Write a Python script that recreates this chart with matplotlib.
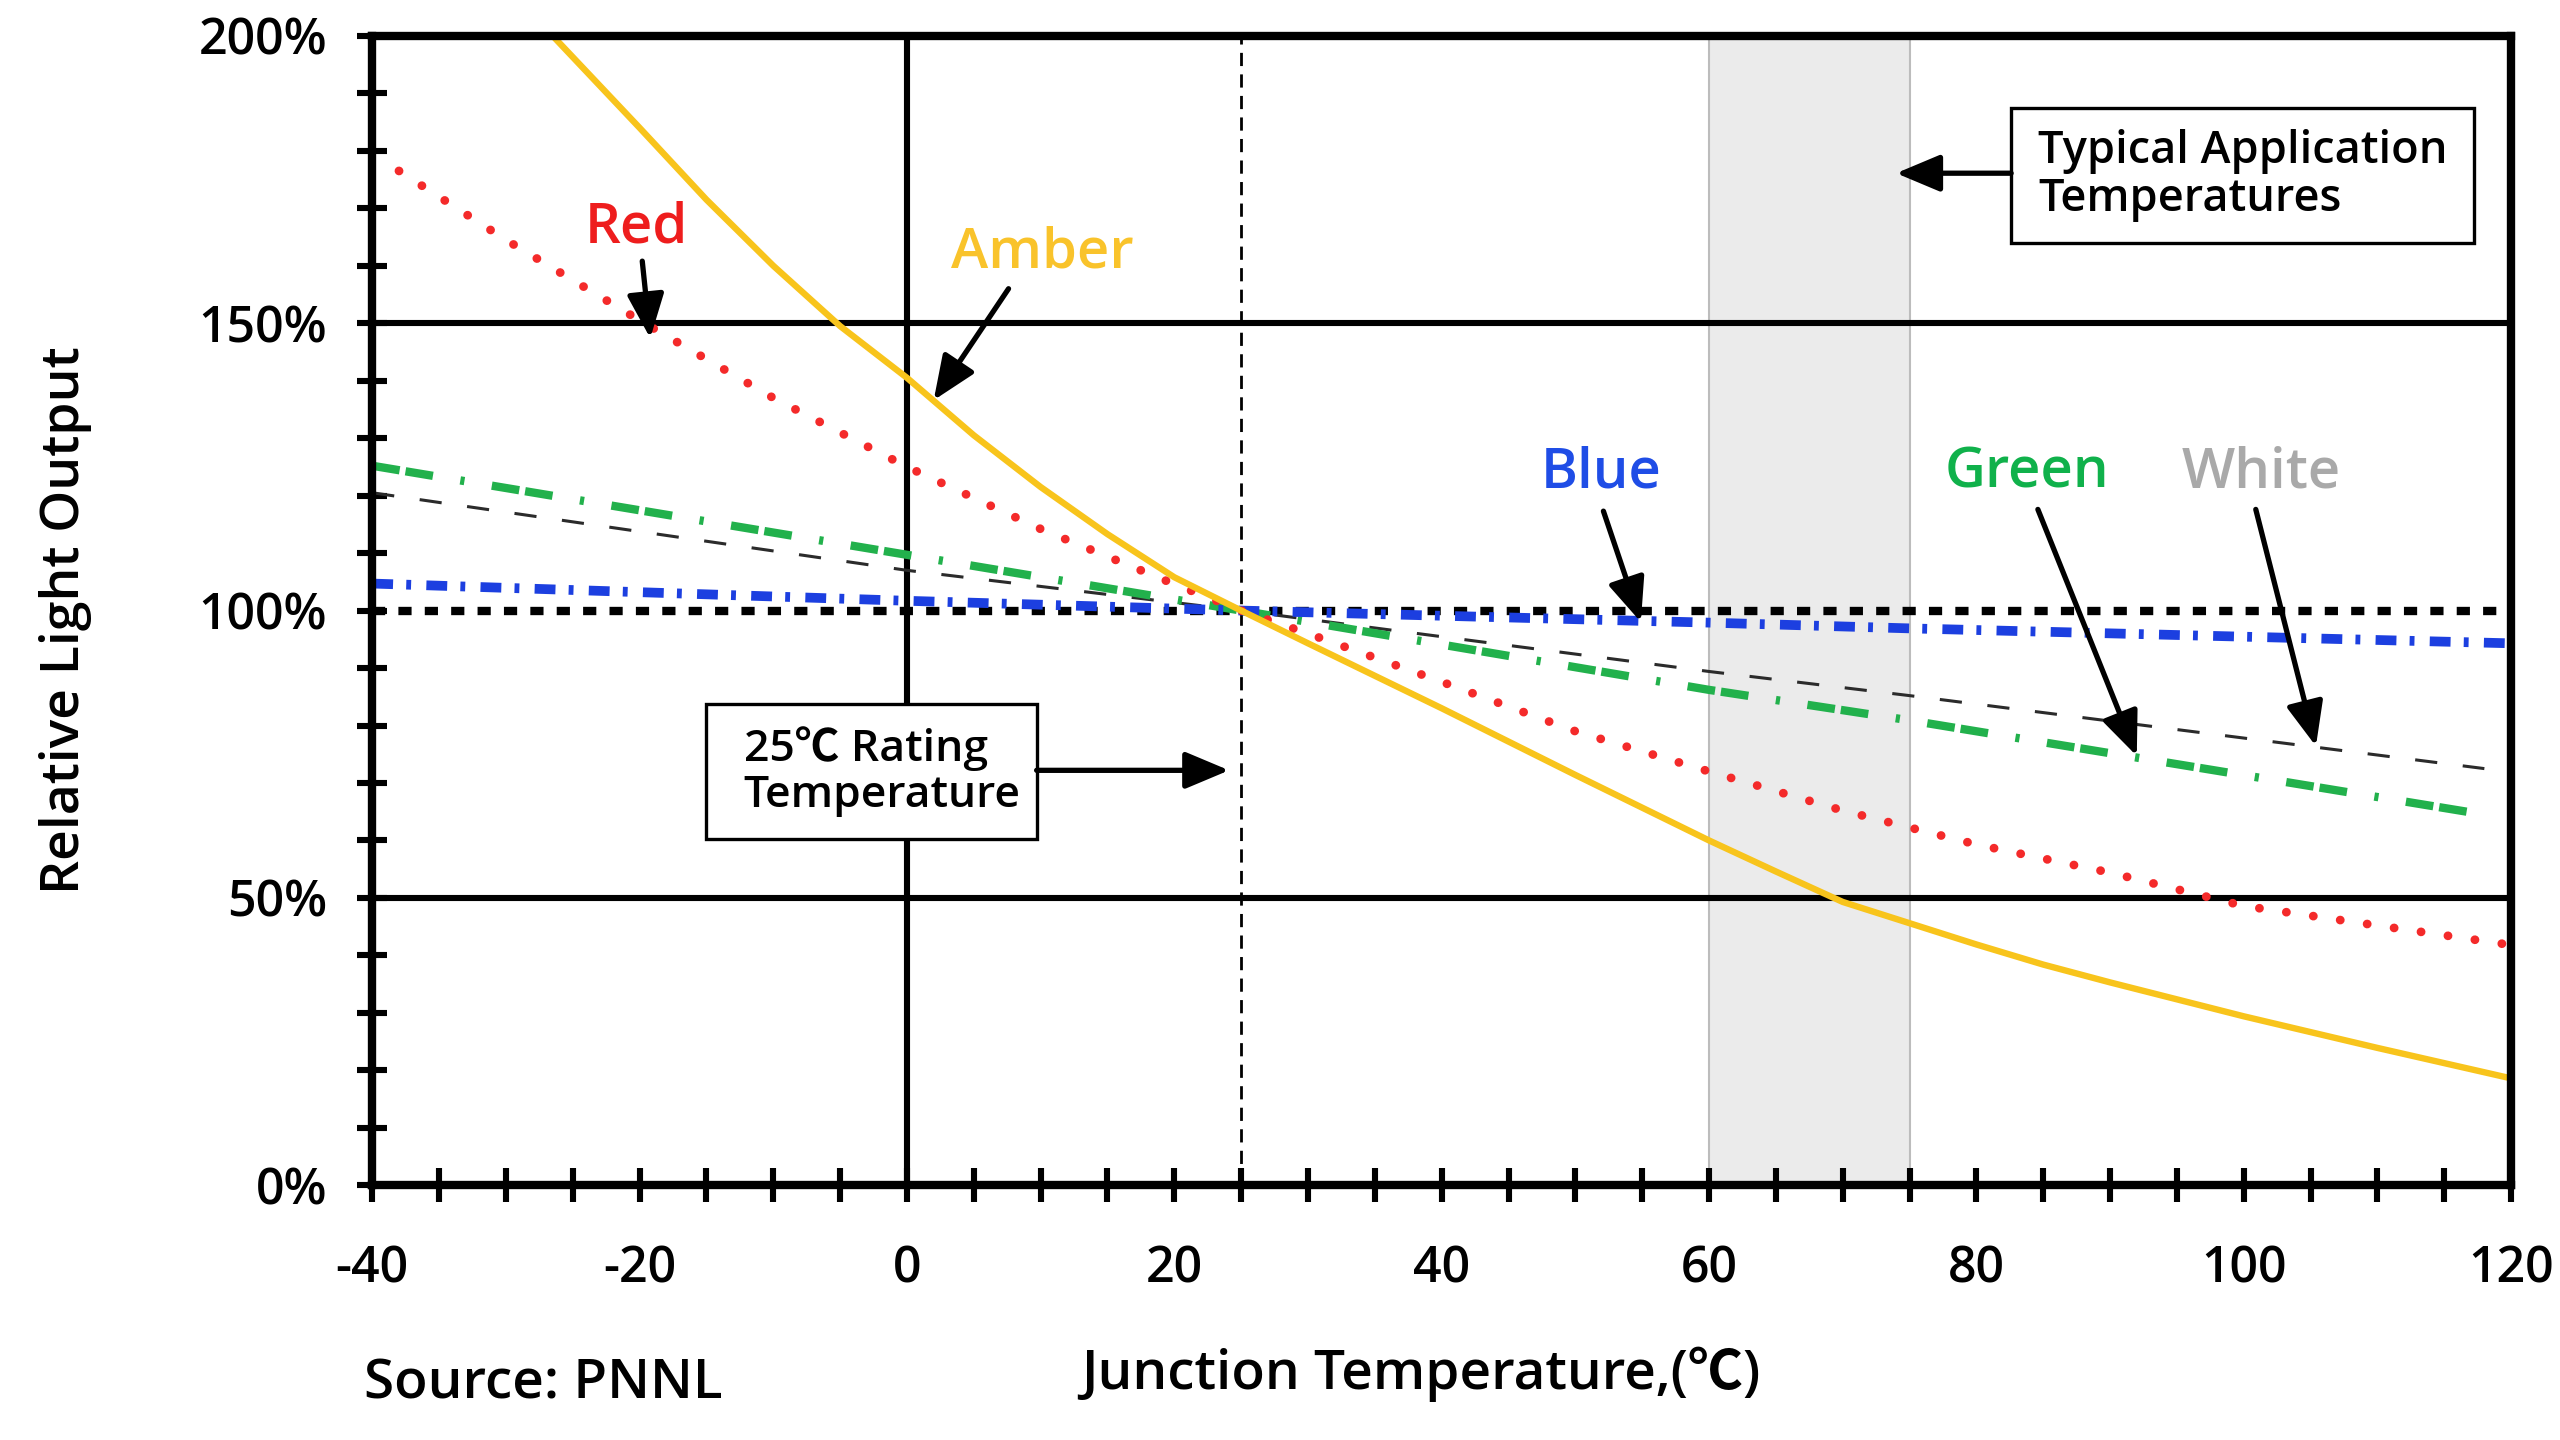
import matplotlib
matplotlib.use('Agg')
import matplotlib.pyplot as plt
from matplotlib.patches import Rectangle
import matplotlib.ticker as mticker

plt.rcParams['font.family'] = ['Open Sans', 'Noto Sans CJK SC', 'DejaVu Sans']
plt.rcParams['font.weight'] = 'semibold'
plt.rcParams['lines.scale_dashes'] = False

# ---------------- data ----------------
amber_t = [-26.5, -20, -15, -10, -5, 0, 5, 10, 15, 20, 25, 30, 40, 50, 60, 65, 70, 75, 80, 85, 90, 100, 110, 120]
amber_v = [200, 184, 171.5, 160, 149.5, 140.5, 130.5, 121.5, 113.3, 105.8, 100, 94.3, 83, 71.4, 60, 54.6,
           49.3, 45.6, 41.9, 38.4, 35.3, 29.4, 23.9, 18.6]

red_t = [-38, -30, -20, -10, 0, 10, 20, 25, 30, 40, 50, 60, 70, 80, 90, 100, 110, 120]
red_v = [176.5, 164.5, 150.5, 137, 125, 114.2, 104.6, 100, 96, 87.6, 79, 72, 65.2, 59.3, 54.4, 48.6, 45.2, 41.8]

green_t = [-40, 0, 25, 60, 75, 118]
green_v = [125.2, 109.7, 100, 86.2, 80.9, 64.5]

white_t = [-40, 0, 25, 60, 75, 118]
white_v = [120.5, 107, 100, 89.4, 85.2, 72.5]

blue_t = [-40, 0, 25, 60, 75, 120]
blue_v = [104.7, 101.7, 100, 97.9, 96.9, 94.3]

rated_level = 100          # dotted reference line (%)
rating_temp = 25           # 25 °C rating temperature
typical_range = (60, 75)   # typical application temperatures

x_ticks = [-40, -20, 0, 20, 40, 60, 80, 100, 120]
x_tick_labels = ['-40', '-20', '0', '20', '40', '60', '80', '100', '120']
y_ticks = [0, 50, 100, 150, 200]
y_tick_labels = ['0%', '50%', '100%', '150%', '200%']

# ---------------- figure ----------------
fig = plt.figure(figsize=(25.6, 14.4), dpi=100)
ax = fig.add_axes([0.1454, 0.1769, 0.8355, 0.7982])
ax.set_xlim(-40, 120)
ax.set_ylim(0, 200)

# shaded typical-application band
ax.axvspan(*typical_range, facecolor='#ebebeb', edgecolor='#bcbcbc', lw=1.5, zorder=0.5)

# solid reference lines
for yv in [50, 150]:
    ax.axhline(yv, color='black', lw=4.4, zorder=1)
ax.axvline(0, color='black', lw=4.4, zorder=1)
ax.axvline(rating_temp, color='black', lw=2.0, dashes=[9.5, 6], zorder=1)

# series
ax.axhline(rated_level, color='black', lw=6.0, dashes=[9.5, 9.5], zorder=3)
ax.plot(white_t, white_v, color='#2b2b2b', lw=2.2, dashes=[16, 18.5], zorder=3.5)
ax.plot(green_t, green_v, color='#22b14c', lw=6.0, dashes=[20, 4.3, 20, 20, 3, 20], zorder=4)
ax.plot(blue_t, blue_v, color='#1c3fe0', lw=7.0, dashes=[15, 9.5, 3.5, 11], zorder=4)
ax.plot(red_t, red_v, color='#f42a2a', lw=6.3, dashes=[0.1, 19.5], dash_capstyle='round', zorder=5)
ax.plot(amber_t, amber_v, color='#f8c41c', lw=4.6, zorder=6)

# ticks
ax.xaxis.set_major_locator(mticker.FixedLocator(x_ticks))
ax.xaxis.set_major_formatter(mticker.FixedFormatter(x_tick_labels))
ax.xaxis.set_minor_locator(mticker.MultipleLocator(5))
ax.yaxis.set_major_locator(mticker.FixedLocator(y_ticks))
ax.yaxis.set_major_formatter(mticker.FixedFormatter(y_tick_labels))
ax.yaxis.set_minor_locator(mticker.MultipleLocator(10))
ax.tick_params(axis='x', which='both', direction='inout', length=25, width=4.4, labelsize=36, pad=30)
ax.tick_params(axis='y', which='both', direction='inout', length=21, width=4.4, labelsize=36, pad=22)
for s in ax.spines.values():
    s.set_linewidth(6)
    s.set_zorder(10)

# axis labels and source
fig.text(0.0255, 0.569, 'Relative Light Output', rotation=90, ha='center', va='center', fontsize=38.5)
fig.text(0.555, 0.0454, 'Junction Temperature,(℃)', ha='center', va='center', fontsize=39.5)
fig.text(0.142, 0.0385, 'Source: PNNL', ha='left', va='center', fontsize=39.5)

# colour labels with arrows
arrow_kw = dict(arrowstyle='-|>,head_length=1.0,head_width=0.42', mutation_scale=27,
                lw=3.8, color='black', shrinkA=0, shrinkB=0)
labels = [
    ('Red', '#ee1d1d', (-20.2, 166.5), (-19.8, 160.8), (-19.2, 147.4)),
    ('Amber', '#f9c32b', (10.15, 162.2), (7.6, 156), (2.0, 136.6)),
    ('Blue', '#1f4de6', (51.9, 123.9), (52.1, 117.3), (54.9, 98.0)),
    ('Green', '#10b14b', (83.8, 123.9), (84.6, 117.6), (92.0, 74.7)),
    ('White', '#a9a9a9', (101.3, 123.9), (100.9, 117.6), (105.4, 76.4)),
]
for txt, col, pos, start, tip in labels:
    ax.text(pos[0], pos[1], txt, color=col, fontsize=40.5, ha='center', va='center', zorder=9)
    ax.annotate('', xy=tip, xytext=start, arrowprops=arrow_kw, zorder=9)

# boxes
ax.add_patch(Rectangle((-15, 60.2), 24.7, 23.6, facecolor='white', edgecolor='black', lw=2.4, zorder=7))
ax.text(-12.2, 72, '25℃ Rating\nTemperature', ha='left', va='center', fontsize=32, linespacing=1.1, zorder=8)
ax.annotate('', xy=(24.1, 72.2), xytext=(9.7, 72.2), arrowprops=arrow_kw, zorder=9)

ax.add_patch(Rectangle((82.6, 163.9), 34.6, 23.6, facecolor='white', edgecolor='black', lw=2.4, zorder=7))
ax.text(84.6, 175.7, 'Typical Application\nTemperatures', ha='left', va='center', fontsize=32.5,
        linespacing=1.1, zorder=8)
ax.annotate('', xy=(74.0, 176.1), xytext=(82.6, 176.1), arrowprops=arrow_kw, zorder=9)

fig.savefig('out.png', dpi=100)
